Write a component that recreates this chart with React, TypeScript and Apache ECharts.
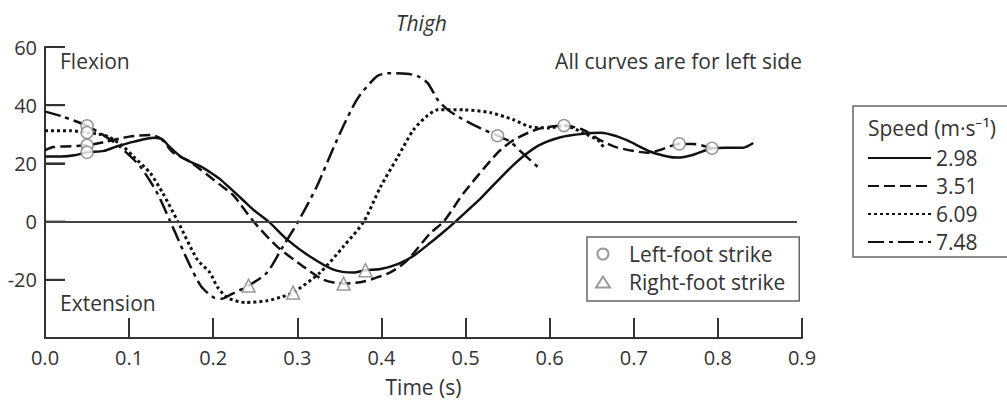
import React, { useEffect, useRef } from "react";
import * as echarts from "echarts";

// Thigh angle (degrees, flexion positive) against time for four running speeds.
const speeds = ["2.98", "3.51", "6.09", "7.48"];

const thigh298: [number, number][] = [
  [0.0, 22.4], [0.02, 22.4], [0.035, 22.8], [0.05, 23.8], [0.07, 24.3], [0.085, 25.8],
  [0.105, 27.4], [0.13, 28.8], [0.14, 28.2], [0.147, 26], [0.161, 22.4], [0.173, 20.5],
  [0.185, 19], [0.196, 17], [0.208, 14.6], [0.22, 11.5], [0.235, 7.5], [0.248, 4],
  [0.266, 0], [0.288, -6.2], [0.315, -12], [0.343, -16.5], [0.367, -17.5], [0.381, -16.7],
  [0.399, -16.3], [0.42, -14.5], [0.438, -11.8], [0.455, -8], [0.472, -4], [0.488, 0],
  [0.505, 4.5], [0.518, 8], [0.557, 19.5], [0.586, 26], [0.613, 29], [0.64, 30.2], [0.661, 30.5],
  [0.68, 29.3], [0.693, 27.8], [0.72, 24], [0.74, 22.4], [0.752, 22], [0.771, 23],
  [0.793, 25.2], [0.81, 25.4], [0.83, 25.4], [0.842, 27],
];

const thigh351: [number, number][] = [
  [0.0, 24.5], [0.01, 25.6], [0.05, 26.2], [0.07, 27.3], [0.1, 29.2], [0.125, 29.8],
  [0.138, 28.5], [0.152, 23.8], [0.173, 20.5], [0.185, 17.8], [0.196, 15.4], [0.208, 12.7],
  [0.224, 9], [0.248, 0], [0.276, -8.6], [0.307, -15.4], [0.331, -20], [0.355, -21.3],
  [0.379, -20.6], [0.41, -17.5], [0.43, -13.5], [0.458, -4], [0.474, 0], [0.498, 9.9],
  [0.538, 23.6], [0.557, 28], [0.586, 31.8], [0.617, 33], [0.64, 31.5], [0.66, 28],
  [0.68, 25.5], [0.716, 23.7], [0.732, 24.7], [0.754, 26.7], [0.771, 26.7], [0.793, 25.2],
];

const thigh609: [number, number][] = [
  [0.0, 31.2], [0.03, 31.2], [0.05, 30.6], [0.065, 30], [0.077, 29], [0.093, 25.8],
  [0.105, 22.4], [0.125, 16.7], [0.14, 9.8], [0.158, 0], [0.181, -13], [0.196, -17.5],
  [0.205, -22.5], [0.218, -26.3], [0.238, -27.8], [0.264, -27.2], [0.28, -26], [0.295, -24.4],
  [0.327, -17.5], [0.355, -8.5], [0.379, 0], [0.399, 12], [0.419, 22], [0.438, 31.5],
  [0.455, 36.5], [0.467, 38.4], [0.498, 38.4], [0.53, 37.4], [0.557, 35], [0.577, 32.6],
  [0.6, 32.2], [0.617, 33], [0.64, 30.5], [0.657, 28], [0.664, 25.7],
];

const thigh748: [number, number][] = [
  [0.0, 37.8], [0.02, 36.2], [0.05, 32.9], [0.069, 29.8], [0.089, 25.7], [0.113, 19],
  [0.133, 10], [0.149, 0], [0.169, -13], [0.185, -22], [0.2, -26], [0.21, -26.5],
  [0.22, -25.2], [0.242, -22], [0.264, -17.5], [0.283, -8.5], [0.301, 0], [0.323, 12],
  [0.347, 28], [0.371, 42], [0.395, 50], [0.41, 51], [0.43, 50.8], [0.443, 50],
  [0.455, 47.6], [0.467, 41.8], [0.479, 38.4], [0.494, 35.6], [0.518, 32], [0.538, 29.5],
  [0.553, 27.5], [0.566, 24], [0.587, 18.5],
];

const leftFootStrikes: [number, number][] = [
  [0.05, 32.9], [0.05, 30.6], [0.05, 26.2], [0.05, 23.8],
  [0.538, 29.5], [0.617, 33], [0.754, 26.7], [0.793, 25.2],
];

const rightFootStrikes: [number, number][] = [
  [0.242, -22], [0.295, -24.4], [0.355, -21.3], [0.381, -16.7],
];

const xTicks = { min: 0, max: 0.9, step: 0.1 };
const yTicks = { min: -40, max: 60, step: 20 };
const yTickValues = [60, 40, 20, 0, -20];

const FONT = '"Open Sans", sans-serif';
const INK = "#333";
const LINE = "#111";
const TEXT_SIZE = 21;

const lineDashes: (number[] | "solid")[] = ["solid", [11, 5], [3, 3], [16, 5, 4, 5]];
const curves = [thigh298, thigh351, thigh609, thigh748];

export default function App() {
  const ref = useRef<HTMLDivElement>(null);

  useEffect(() => {
    if (!ref.current) return;
    const chart = echarts.init(ref.current, null, { renderer: "svg" });

    const lineSeries = curves.map((data, i) => ({
      name: speeds[i],
      type: "line",
      data,
      smooth: 0.25,
      symbol: "none",
      showSymbol: false,
      z: 2,
      lineStyle: { color: LINE, width: i === 2 ? 3 : 2.5, type: lineDashes[i] },
      itemStyle: { color: LINE },
      ...(i === 0
        ? {
            markLine: {
              silent: true,
              symbol: "none",
              label: { show: false },
              lineStyle: { color: "#444", width: 2, type: "solid" },
              data: [[{ coord: [0, 0] }, { coord: [0.894, 0] }]],
            },
          }
        : {}),
    }));

    const markerStyle = { color: "#fff", borderColor: "#808080", borderWidth: 1.5 };

    chart.setOption({
      animation: false,
      backgroundColor: "#fff",
      title: {
        text: "Thigh",
        left: 396,
        top: 12,
        padding: 0,
        textStyle: { fontFamily: FONT, fontStyle: "italic", fontWeight: "normal", fontSize: TEXT_SIZE, color: INK },
      },
      grid: { left: 45, right: 205, top: 47, bottom: 62, outerBoundsMode: "none" },
      xAxis: {
        type: "value",
        min: xTicks.min,
        max: xTicks.max,
        interval: xTicks.step,
        name: "Time (s)",
        nameLocation: "middle",
        nameGap: 38,
        nameTextStyle: { fontFamily: FONT, fontSize: TEXT_SIZE, color: INK },
        axisLine: { show: true, onZero: false, lineStyle: { color: INK, width: 2 } },
        axisTick: { show: true, inside: true, length: 20, lineStyle: { color: INK, width: 2 } },
        axisLabel: {
          margin: 9,
          fontFamily: FONT,
          fontSize: 20,
          color: INK,
          formatter: (v: number) => v.toFixed(1),
        },
        splitLine: { show: false },
      },
      yAxis: {
        type: "value",
        min: yTicks.min,
        max: yTicks.max,
        interval: yTicks.step,
        axisLine: { show: true, onZero: false, lineStyle: { color: INK, width: 2 } },
        axisTick: { show: true, inside: true, length: 20, lineStyle: { color: INK, width: 2 } },
        axisLabel: {
          margin: 8,
          fontFamily: FONT,
          fontSize: 20,
          color: INK,
          formatter: (v: number) => (v === yTicks.min ? "" : String(v)),
        },
        splitLine: { show: false },
      },
      legend: [
        {
          data: speeds,
          orient: "vertical",
          left: 853,
          top: 106,
          padding: [41, 40, 4, 14],
          itemWidth: 63,
          itemHeight: 14,
          itemGap: 6,
          selectedMode: false,
          borderColor: "#666",
          borderWidth: 1.5,
          itemStyle: { opacity: 0, borderWidth: 0 },
          textStyle: { fontFamily: FONT, fontSize: TEXT_SIZE, color: INK, lineHeight: 22 },
        },
        {
          data: ["Left-foot strike", "Right-foot strike"],
          orient: "vertical",
          left: 587,
          top: 237,
          padding: [6, 14, 8, 8],
          itemWidth: 14,
          itemHeight: 11,
          itemGap: 6,
          selectedMode: false,
          borderColor: "#666",
          borderWidth: 1.5,
          textStyle: { fontFamily: FONT, fontSize: TEXT_SIZE, color: INK, lineHeight: 22, padding: [0, 0, 0, 14] },
        },
      ],
      series: [
        ...lineSeries,
        {
          name: "Left-foot strike",
          type: "scatter",
          data: leftFootStrikes,
          symbol: "circle",
          symbolSize: 12,
          z: 3,
          itemStyle: markerStyle,
        },
        {
          name: "Right-foot strike",
          type: "scatter",
          data: rightFootStrikes,
          symbol: "triangle",
          symbolSize: 13,
          z: 3,
          itemStyle: markerStyle,
        },
      ],
    });

    // Inward y-axis ticks, placed through the grid's own coordinate conversion.
    const yTickMarks = yTickValues.map((v) => {
      const [px, py] = chart.convertToPixel({ gridIndex: 0 }, [xTicks.min, v]) as number[];
      return {
        type: "line",
        shape: { x1: px, y1: py, x2: px + 20, y2: py },
        style: { stroke: INK, lineWidth: 2 },
      };
    });

    chart.setOption({
      graphic: [
        ...yTickMarks,
        {
          type: "text",
          left: 60,
          top: 50,
          style: { text: "Flexion", fontFamily: FONT, fontSize: TEXT_SIZE, fill: INK },
        },
        {
          type: "text",
          right: 205,
          top: 50,
          style: { text: "All curves are for left side", fontFamily: FONT, fontSize: TEXT_SIZE, fill: INK },
        },
        {
          type: "text",
          left: 60,
          top: 292,
          style: { text: "Extension", fontFamily: FONT, fontSize: TEXT_SIZE, fill: INK },
        },
        {
          type: "text",
          left: 868,
          top: 117,
          style: { text: "Speed (m·s⁻¹)", fontFamily: FONT, fontSize: TEXT_SIZE, fill: INK },
        },
      ],
    });

    return () => chart.dispose();
  }, []);

  return (
    <div
      ref={ref}
      style={{ position: "fixed", left: 0, top: 0, width: 1007, height: 400, background: "#fff" }}
    />
  );
}
